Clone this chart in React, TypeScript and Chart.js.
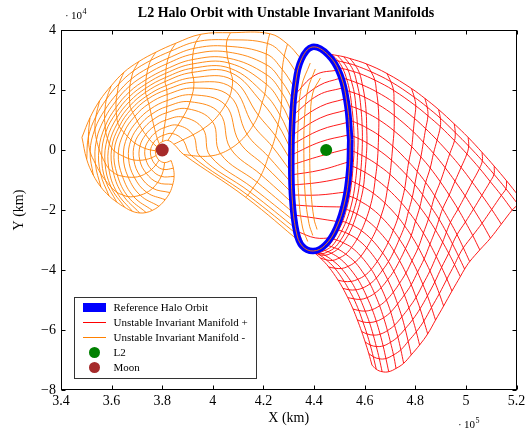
import React, { useEffect, useRef } from 'react';
import { Chart, registerables } from 'chart.js';
Chart.register(...registerables);

// Axis ticks (X in 1e5 km, Y in 1e4 km)
const X_TICKS = [3.4, 3.6, 3.8, 4.0, 4.2, 4.4, 4.6, 4.8, 5.0, 5.2];
const Y_TICKS = [-8, -6, -4, -2, 0, 2, 4];

// Reference halo orbit
const HALO_X = [4.543, 4.539, 4.523, 4.488, 4.444, 4.397, 4.353, 4.33, 4.314, 4.31, 4.314, 4.326, 4.349, 4.393, 4.456, 4.504, 4.531, 4.543];
const HALO_Y = [0.333, -0.667, -1.667, -2.6, -3.167, -3.367, -3.2, -2.733, -1.667, -0.333, 1.0, 2.167, 3.0, 3.433, 3.167, 2.5, 1.5, 0.333];

// Unstable manifold + : rows = trajectories, columns = time samples (X 1e5 km, Y 1e4 km)
const RED_X = [
  [4.45, 4.471, 4.492, 4.517, 4.542, 4.607, 4.688, 4.785, 4.838, 4.892, 4.954, 5.009, 5.064, 5.112, 5.161, 5.21],
  [4.475, 4.495, 4.515, 4.539, 4.563, 4.625, 4.703, 4.796, 4.847, 4.899, 4.958, 5.011, 5.065, 5.111, 5.158, 5.205],
  [4.495, 4.514, 4.534, 4.557, 4.58, 4.64, 4.714, 4.802, 4.85, 4.899, 4.955, 5.004, 5.054, 5.096, 5.14, 5.183],
  [4.51, 4.529, 4.547, 4.569, 4.591, 4.647, 4.716, 4.797, 4.841, 4.886, 4.936, 4.981, 5.025, 5.063, 5.102, 5.14],
  [4.523, 4.541, 4.559, 4.579, 4.6, 4.653, 4.717, 4.792, 4.832, 4.872, 4.918, 4.957, 4.997, 5.03, 5.064, 5.097],
  [4.532, 4.549, 4.566, 4.586, 4.606, 4.656, 4.716, 4.786, 4.822, 4.859, 4.899, 4.934, 4.969, 4.998, 5.027, 5.055],
  [4.539, 4.555, 4.571, 4.59, 4.608, 4.655, 4.711, 4.774, 4.808, 4.841, 4.877, 4.908, 4.939, 4.965, 4.99, 5.015],
  [4.543, 4.558, 4.574, 4.591, 4.609, 4.653, 4.706, 4.766, 4.798, 4.829, 4.864, 4.894, 4.923, 4.947, 4.971, 4.995],
  [4.543, 4.558, 4.572, 4.589, 4.606, 4.649, 4.7, 4.758, 4.788, 4.818, 4.852, 4.88, 4.908, 4.932, 4.955, 4.978],
  [4.54, 4.554, 4.569, 4.585, 4.601, 4.642, 4.69, 4.745, 4.773, 4.801, 4.832, 4.858, 4.883, 4.904, 4.925, 4.945],
  [4.535, 4.549, 4.563, 4.579, 4.595, 4.634, 4.68, 4.732, 4.758, 4.784, 4.812, 4.835, 4.858, 4.877, 4.895, 4.912],
  [4.527, 4.54, 4.554, 4.569, 4.583, 4.621, 4.664, 4.713, 4.737, 4.761, 4.787, 4.809, 4.83, 4.848, 4.864, 4.88],
  [4.515, 4.528, 4.541, 4.555, 4.569, 4.605, 4.647, 4.693, 4.716, 4.738, 4.763, 4.784, 4.803, 4.819, 4.834, 4.849],
  [4.5, 4.513, 4.525, 4.539, 4.553, 4.587, 4.627, 4.671, 4.694, 4.715, 4.738, 4.757, 4.775, 4.79, 4.804, 4.817],
  [4.485, 4.497, 4.509, 4.523, 4.537, 4.57, 4.608, 4.65, 4.671, 4.691, 4.713, 4.73, 4.747, 4.76, 4.772, 4.784],
  [4.465, 4.477, 4.489, 4.502, 4.515, 4.548, 4.585, 4.626, 4.646, 4.665, 4.686, 4.703, 4.718, 4.731, 4.743, 4.754],
  [4.445, 4.457, 4.468, 4.481, 4.494, 4.525, 4.562, 4.601, 4.621, 4.639, 4.659, 4.675, 4.69, 4.702, 4.714, 4.724],
  [4.42, 4.431, 4.442, 4.455, 4.468, 4.499, 4.534, 4.573, 4.592, 4.61, 4.63, 4.646, 4.661, 4.673, 4.684, 4.695],
  [4.397, 4.408, 4.419, 4.431, 4.443, 4.473, 4.508, 4.546, 4.565, 4.583, 4.602, 4.619, 4.634, 4.646, 4.658, 4.669],
  [4.375, 4.385, 4.396, 4.408, 4.419, 4.448, 4.482, 4.519, 4.538, 4.557, 4.577, 4.593, 4.609, 4.622, 4.634, 4.646],
  [4.355, 4.365, 4.375, 4.386, 4.397, 4.425, 4.458, 4.495, 4.514, 4.533, 4.554, 4.571, 4.588, 4.602, 4.616, 4.629],
];
const RED_Y = [
  [3.2, 3.18, 3.15, 3.11, 3.05, 2.87, 2.55, 2.05, 1.72, 1.35, 0.87, 0.42, -0.08, -0.54, -1.03, -1.55],
  [3.0, 2.97, 2.93, 2.88, 2.82, 2.61, 2.28, 1.76, 1.43, 1.06, 0.58, 0.13, -0.36, -0.81, -1.29, -1.8],
  [2.75, 2.71, 2.67, 2.61, 2.55, 2.33, 1.99, 1.47, 1.14, 0.78, 0.31, -0.13, -0.61, -1.05, -1.51, -2.0],
  [2.4, 2.36, 2.31, 2.24, 2.17, 1.94, 1.58, 1.05, 0.71, 0.33, -0.13, -0.58, -1.07, -1.51, -1.98, -2.47],
  [2.0, 1.95, 1.9, 1.84, 1.76, 1.52, 1.15, 0.61, 0.26, -0.11, -0.59, -1.04, -1.53, -1.97, -2.44, -2.94],
  [1.5, 1.45, 1.4, 1.33, 1.25, 1.01, 0.64, 0.11, -0.23, -0.6, -1.06, -1.5, -1.97, -2.4, -2.85, -3.33],
  [1.0, 0.95, 0.89, 0.82, 0.74, 0.5, 0.13, -0.4, -0.72, -1.08, -1.53, -1.96, -2.41, -2.82, -3.26, -3.72],
  [0.5, 0.45, 0.39, 0.32, 0.24, 0.01, -0.34, -0.84, -1.15, -1.49, -1.92, -2.31, -2.74, -3.13, -3.54, -3.97],
  [0.0, -0.05, -0.11, -0.18, -0.25, -0.48, -0.81, -1.29, -1.58, -1.9, -2.3, -2.67, -3.07, -3.44, -3.82, -4.22],
  [-0.5, -0.55, -0.6, -0.67, -0.74, -0.96, -1.29, -1.76, -2.05, -2.37, -2.77, -3.14, -3.55, -3.91, -4.3, -4.7],
  [-1.0, -1.04, -1.09, -1.16, -1.23, -1.44, -1.77, -2.24, -2.53, -2.85, -3.25, -3.63, -4.03, -4.4, -4.79, -5.2],
  [-1.5, -1.54, -1.58, -1.64, -1.71, -1.91, -2.22, -2.68, -2.97, -3.29, -3.69, -4.07, -4.48, -4.86, -5.25, -5.67],
  [-1.95, -1.98, -2.02, -2.07, -2.13, -2.32, -2.63, -3.08, -3.37, -3.69, -4.1, -4.49, -4.91, -5.29, -5.7, -6.13],
  [-2.35, -2.38, -2.41, -2.46, -2.51, -2.69, -2.98, -3.43, -3.72, -4.04, -4.44, -4.83, -5.26, -5.65, -6.06, -6.5],
  [-2.65, -2.67, -2.7, -2.75, -2.8, -2.97, -3.26, -3.71, -4.0, -4.32, -4.74, -5.13, -5.56, -5.96, -6.38, -6.83],
  [-2.95, -2.97, -3.0, -3.04, -3.09, -3.25, -3.54, -3.98, -4.27, -4.59, -5.0, -5.4, -5.84, -6.23, -6.66, -7.11],
  [-3.17, -3.19, -3.22, -3.26, -3.3, -3.47, -3.74, -4.18, -4.46, -4.78, -5.19, -5.59, -6.02, -6.41, -6.83, -7.28],
  [-3.3, -3.32, -3.35, -3.39, -3.44, -3.6, -3.88, -4.31, -4.6, -4.92, -5.32, -5.71, -6.14, -6.53, -6.95, -7.39],
  [-3.367, -3.39, -3.42, -3.46, -3.51, -3.68, -3.95, -4.38, -4.66, -4.98, -5.37, -5.75, -6.17, -6.55, -6.96, -7.39],
  [-3.32, -3.35, -3.38, -3.43, -3.48, -3.66, -3.94, -4.38, -4.66, -4.96, -5.35, -5.73, -6.13, -6.5, -6.89, -7.31],
  [-3.2, -3.24, -3.28, -3.34, -3.4, -3.6, -3.9, -4.34, -4.61, -4.92, -5.3, -5.66, -6.05, -6.4, -6.78, -7.17],
];
// + manifold segments crossing the halo interior
const RED_IN_X = [
  [4.322, 4.405, 4.496], [4.32, 4.42, 4.505], [4.318, 4.417, 4.512], [4.312, 4.425, 4.52],
  [4.314, 4.425, 4.527], [4.31, 4.425, 4.532], [4.31, 4.425, 4.535], [4.31, 4.425, 4.537],
  [4.31, 4.425, 4.535], [4.312, 4.42, 4.532], [4.314, 4.417, 4.527], [4.318, 4.41, 4.516],
  [4.322, 4.405, 4.504], [4.338, 4.405, 4.472],
];
const RED_IN_Y = [
  [1.83, 2.5, 2.67], [1.5, 2.15, 2.4], [1.17, 1.83, 2.07], [0.83, 1.45, 1.7],
  [0.5, 1.07, 1.33], [0.17, 0.67, 0.92], [-0.17, 0.27, 0.5], [-0.5, -0.2, 0.05],
  [-0.83, -0.67, -0.4], [-1.17, -1.08, -0.9], [-1.5, -1.5, -1.4], [-1.83, -1.88, -1.9],
  [-2.17, -2.27, -2.4], [-2.73, -2.93, -2.93],
];

// Unstable manifold - : polar samples around the Moon (angle in degrees, radius in 1e4 km)
const ORANGE_ANGLE = [
  [29.4, 35.5, 42.4, 55.4, 68.4, 81.4, 94.4, 107.4, 120.4, 133.4, 146.4, 159.4, 172.4],
  [26, 33, 40.5, 55.1, 69.6, 84.2, 98.7, 113.3, 127.8, 142.4, 156.9, 171.5, 186],
  [22, 29.5, 37.9, 53.8, 69.7, 85.6, 101.5, 117.5, 133.4, 149.3, 165.2, 181.1, 197],
  [17.5, 25.8, 34.7, 52, 69.2, 86.4, 103.6, 120.9, 138.1, 155.3, 172.5, 189.8, 207],
  [13, 22, 31.5, 49.9, 68.4, 86.8, 105.3, 123.7, 142.2, 160.6, 179.1, 197.5, 216],
  [8.5, 18, 28.1, 47.7, 67.3, 86.9, 106.5, 126.0, 145.6, 165.2, 184.8, 204.4, 224],
  [4, 14, 24.7, 45.5, 66.2, 86.9, 107.6, 128.4, 149.1, 169.8, 190.5, 211.3, 232],
  [0, 10.5, 21.8, 43.6, 65.5, 87.3, 109.1, 130.9, 152.7, 174.5, 196.4, 218.2, 240],
  [-4, 6, 17, 40, 63, 86, 109, 132, 155, 178, 201, 224, 247],
  [-8, 1.5, 13, 37, 61, 85, 109, 133, 157, 181, 205, 229, 253],
  [-12, -3, 9, 34, 59, 84, 109, 134, 159, 184, 209, 234, 259],
  [-15.5, -7.5, 5, 31.1, 57.2, 83.3, 109.4, 135.6, 161.7, 187.8, 213.9, 240, 266],
  [-19, -12, 1, 28.3, 55.6, 82.9, 110.2, 137.5, 164.8, 192.1, 219.4, 246.7, 274],
  [-22, -16, -3, 25.5, 54, 82.5, 111, 139.5, 168, 196.5, 225, 253.5, 282],
  [-24.5, -19.5, -6, 23.6, 53.2, 82.8, 112.4, 142, 171.6, 201.2, 230.8, 260.4, 290],
  [-26.5, -22, -8, 22.6, 53.2, 83.8, 114.4, 145, 175.6, 206.2, 236.8, 267.4, 298],
  [-28, -24, -9, 22.5, 54, 85.5, 117, 148.5, 180, 211.5, 243, 274.5, 306],
  [-29.5, -25.5, -10, 22.5, 55, 87.5, 120, 152.5, 185, 217.5, 250, 282.5, 315],
];
const ORANGE_RADIUS = [
  [6.26, 6.08, 5.75, 4.75, 4.15, 3.6, 3.27, 3.09, 3.0, 2.94, 2.97, 3.05, 3.2],
  [5.9, 5.75, 5.47, 4.48, 3.85, 3.31, 3.02, 2.87, 2.79, 2.78, 2.85, 2.95, 3.0],
  [5.62, 5.45, 5.21, 4.29, 3.61, 3.07, 2.79, 2.66, 2.59, 2.63, 2.75, 2.85, 2.85],
  [5.45, 5.25, 5.0, 4.15, 3.42, 2.88, 2.6, 2.49, 2.45, 2.51, 2.62, 2.68, 2.72],
  [5.3, 5.1, 4.82, 4.01, 3.24, 2.7, 2.43, 2.33, 2.31, 2.39, 2.5, 2.56, 2.6],
  [5.2, 4.95, 4.66, 3.92, 3.11, 2.56, 2.29, 2.2, 2.2, 2.31, 2.4, 2.46, 2.5],
  [5.11, 4.8, 4.46, 3.82, 2.98, 2.42, 2.16, 2.07, 2.09, 2.2, 2.3, 2.37, 2.42],
  [5.1, 4.65, 4.25, 3.74, 2.84, 2.28, 2.03, 1.95, 1.98, 2.1, 2.2, 2.28, 2.36],
  [5.1, 4.5, 3.97, 3.63, 2.71, 2.15, 1.9, 1.83, 1.87, 2.0, 2.07, 2.16, 2.28],
  [5.13, 4.35, 3.69, 3.45, 2.58, 2.02, 1.79, 1.71, 1.76, 1.9, 1.96, 2.06, 2.18],
  [5.2, 4.2, 3.39, 3.22, 2.41, 1.86, 1.63, 1.56, 1.62, 1.74, 1.8, 1.92, 2.05],
  [5.3, 4.1, 3.06, 2.91, 2.19, 1.66, 1.44, 1.38, 1.45, 1.55, 1.62, 1.74, 1.88],
  [5.45, 4.0, 2.7, 2.58, 1.95, 1.46, 1.26, 1.21, 1.28, 1.36, 1.43, 1.54, 1.66],
  [5.6, 3.9, 2.3, 2.2, 1.7, 1.25, 1.07, 1.03, 1.11, 1.17, 1.23, 1.33, 1.45],
  [5.8, 3.8, 1.91, 1.76, 1.37, 1.0, 0.85, 0.83, 0.89, 0.95, 1.0, 1.1, 1.22],
  [6.0, 3.75, 1.51, 1.32, 1.03, 0.75, 0.64, 0.62, 0.68, 0.72, 0.78, 0.88, 1.0],
  [6.2, 3.7, 1.16, 0.88, 0.68, 0.49, 0.43, 0.42, 0.46, 0.5, 0.56, 0.65, 0.75],
  [6.4, 3.65, 0.86, 0.5, 0.39, 0.28, 0.24, 0.24, 0.27, 0.3, 0.36, 0.43, 0.5],
];
// - manifold segments inside the halo
const ORANGE_IN_X = [
  [4.385, 4.35, 4.338, 4.335, 4.34, 4.355, 4.375],
  [4.405, 4.375, 4.362, 4.36, 4.365, 4.38, 4.395],
  [4.425, 4.395, 4.385, 4.383, 4.388, 4.4, 4.412],
];
const ORANGE_IN_Y = [
  [2.9, 2.1, 1.0, -0.3, -1.6, -2.6, -3.05],
  [2.7, 2.0, 1.0, -0.3, -1.5, -2.45, -2.85],
  [2.4, 1.9, 1.0, -0.3, -1.4, -2.3, -2.65],
];

const L2_POINT = { x: 4.448, y: 0 };
const MOON_POINT = { x: 3.8, y: 0 };

const LEGEND_LABELS = [
  'Reference Halo Orbit',
  'Unstable Invariant Manifold +',
  'Unstable Invariant Manifold -',
  'L2',
  'Moon',
];

const C_RED = '#ff0000';
const C_ORANGE = '#ff8000';
const C_BLUE = '#0000ff';
const C_GREEN = '#008000';
const C_BROWN = '#a52a2a';
const FONT = '"Liberation Serif", "DejaVu Serif", serif';
const THIN = 0.9;

type Pt = { x: number; y: number };

function line(data: Pt[], color: string, width: number) {
  return {
    data,
    showLine: true,
    borderColor: color,
    backgroundColor: color,
    borderWidth: width,
    pointRadius: 0,
    pointHoverRadius: 0,
    tension: 0.4,
    fill: false,
  };
}

// rows -> lines, and columns -> lines (mesh)
function meshSets(grid: Pt[][], color: string) {
  const sets: any[] = grid.map((row) => line(row, color, THIN));
  const m = grid[0].length;
  for (let j = 0; j < m; j++) sets.push(line(grid.map((row) => row[j]), color, THIN));
  return sets;
}

function cartGrid(xs: number[][], ys: number[][]): Pt[][] {
  return xs.map((row, i) => row.map((x, j) => ({ x, y: ys[i][j] })));
}

// polar (deg, 1e4 km) around the Moon -> X (1e5 km), Y (1e4 km)
function polarGrid(ang: number[][], rad: number[][]): Pt[][] {
  return ang.map((row, i) =>
    row.map((a, j) => {
      const t = (a * Math.PI) / 180;
      return { x: MOON_POINT.x + (rad[i][j] * Math.cos(t)) / 10, y: MOON_POINT.y + rad[i][j] * Math.sin(t) };
    })
  );
}

const decorPlugin = {
  id: 'decor',
  afterDraw(chart: any) {
    const { ctx, chartArea: a, scales } = chart;
    ctx.save();
    ctx.strokeStyle = '#000';
    ctx.lineWidth = 1;
    const L = Math.round(a.left) + 0.5, R = Math.round(a.right) - 0.5;
    const T = Math.round(a.top) + 0.5, B = Math.round(a.bottom) - 0.5;
    ctx.strokeRect(L, T, R - L, B - T);
    ctx.beginPath();
    for (const v of X_TICKS) {
      const px = Math.round(scales.x.getPixelForValue(v)) + 0.5;
      ctx.moveTo(px, B); ctx.lineTo(px, B - 4);
      ctx.moveTo(px, T); ctx.lineTo(px, T + 4);
    }
    for (const v of Y_TICKS) {
      const py = Math.round(scales.y.getPixelForValue(v)) + 0.5;
      ctx.moveTo(L, py); ctx.lineTo(L + 4, py);
      ctx.moveTo(R, py); ctx.lineTo(R - 4, py);
    }
    ctx.stroke();

    ctx.fillStyle = '#000';
    ctx.font = `bold 14px ${FONT}`;
    ctx.textAlign = 'center';
    ctx.textBaseline = 'alphabetic';
    ctx.fillText('L2 Halo Orbit with Unstable Invariant Manifolds', 286, 17);

    ctx.textAlign = 'left';
    ctx.font = `11px ${FONT}`;
    ctx.fillText('\u00b7', 65, 18.5);
    ctx.fillText('10', 71, 18.5);
    ctx.font = `8px ${FONT}`;
    ctx.fillText('4', 82.5, 13.5);
    ctx.font = `11px ${FONT}`;
    ctx.fillText('\u00b7', 458, 428);
    ctx.fillText('10', 464, 428);
    ctx.font = `8px ${FONT}`;
    ctx.fillText('5', 475.5, 423);

    const lx = 74.5, ly = 297.5, lw = 182, lh = 81;
    ctx.fillStyle = '#fff';
    ctx.fillRect(lx, ly, lw, lh);
    ctx.strokeStyle = '#333';
    ctx.lineWidth = 1;
    ctx.strokeRect(lx, ly, lw, lh);
    const rows = [307.5, 322.5, 337.5, 352.5, 367.5];
    const sx0 = 83, sx1 = 106, scx = 94.5;
    ctx.fillStyle = C_BLUE;
    ctx.fillRect(sx0, rows[0] - 4.5, sx1 - sx0, 9);
    ctx.lineWidth = 1;
    ctx.strokeStyle = C_RED;
    ctx.beginPath(); ctx.moveTo(sx0, rows[1]); ctx.lineTo(sx1, rows[1]); ctx.stroke();
    ctx.strokeStyle = C_ORANGE;
    ctx.beginPath(); ctx.moveTo(sx0, rows[2]); ctx.lineTo(sx1, rows[2]); ctx.stroke();
    ctx.fillStyle = C_GREEN;
    ctx.beginPath(); ctx.arc(scx, rows[3], 5.5, 0, Math.PI * 2); ctx.fill();
    ctx.fillStyle = C_BROWN;
    ctx.beginPath(); ctx.arc(scx, rows[4], 5.5, 0, Math.PI * 2); ctx.fill();
    ctx.fillStyle = '#000';
    ctx.font = `11px ${FONT}`;
    ctx.textBaseline = 'middle';
    LEGEND_LABELS.forEach((t, k) => ctx.fillText(t, 113.5, rows[k] + 0.5));
    ctx.restore();
  },
};

export default function App() {
  const ref = useRef<HTMLCanvasElement | null>(null);
  useEffect(() => {
    if (!ref.current) return;
    const haloData = HALO_X.map((x, i) => ({ x, y: HALO_Y[i] }));
    const bottomToTop: any[] = [
      ...meshSets(cartGrid(RED_X, RED_Y), C_RED),
      ...cartGrid(RED_IN_X, RED_IN_Y).map((r) => line(r, C_RED, THIN)),
      ...meshSets(polarGrid(ORANGE_ANGLE, ORANGE_RADIUS), C_ORANGE),
      ...cartGrid(ORANGE_IN_X, ORANGE_IN_Y).map((r) => line(r, C_ORANGE, THIN)),
      line(haloData, C_BLUE, 6.5),
      line(haloData, C_ORANGE, 0.9),
      {
        data: [L2_POINT], showLine: false, pointRadius: 6, pointHoverRadius: 6,
        backgroundColor: C_GREEN, borderWidth: 0,
      },
      {
        data: [MOON_POINT], showLine: false, pointRadius: 6.5, pointHoverRadius: 6.5,
        backgroundColor: C_BROWN, borderWidth: 0,
      },
    ];
    const n = bottomToTop.length;
    bottomToTop.forEach((d, k) => { d.order = n - k; });

    const chart = new Chart(ref.current, {
      type: 'scatter',
      data: { datasets: bottomToTop },
      options: {
        animation: false,
        responsive: false,
        events: [],
        layout: { padding: { left: 0, right: 13.5, top: 30, bottom: 0 } },
        plugins: { legend: { display: false }, tooltip: { enabled: false }, title: { display: false } },
        scales: {
          x: {
            type: 'linear', min: 3.4, max: 5.2,
            afterFit: (s: any) => { s.height = 41; },
            afterBuildTicks: (s: any) => { s.ticks = X_TICKS.map((v) => ({ value: v })); },
            grid: { display: false, drawTicks: false },
            border: { display: false },
            ticks: {
              autoSkip: false, maxRotation: 0, padding: 3, color: '#000',
              font: { family: FONT, size: 14 },
              callback: (v: any) => String(Math.round(Number(v) * 10) / 10),
            },
            title: {
              display: true, text: 'X (km)', color: '#000',
              font: { family: FONT, size: 14 }, padding: { top: 0, bottom: 4 },
            },
          },
          y: {
            type: 'linear', min: -8, max: 4,
            afterFit: (s: any) => { s.width = 61; },
            afterBuildTicks: (s: any) => { s.ticks = Y_TICKS.map((v) => ({ value: v })); },
            grid: { display: false, drawTicks: false },
            border: { display: false },
            ticks: {
              autoSkip: false, padding: 5, color: '#000',
              font: { family: FONT, size: 14 },
              callback: (v: any) => String(Math.round(Number(v))).replace('-', '\u2212'),
            },
            title: {
              display: true, text: 'Y (km)', color: '#000',
              font: { family: FONT, size: 14 }, padding: { top: 11, bottom: 0 },
            },
          },
        },
      },
      plugins: [decorPlugin],
    } as any);
    return () => chart.destroy();
  }, []);
  return (
    <div style={{ position: 'fixed', left: 0, top: 0, width: 530, height: 431, background: '#fff' }}>
      <canvas ref={ref} width={530} height={431} style={{ width: 530, height: 431, display: 'block' }} />
    </div>
  );
}
